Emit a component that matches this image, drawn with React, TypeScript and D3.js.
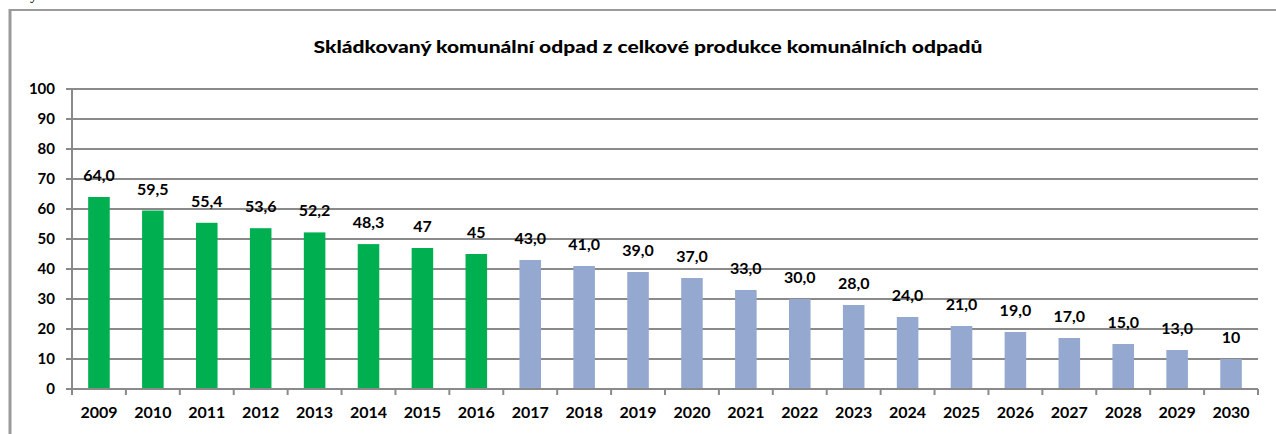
import React from "react";
import * as d3 from "d3";

const years = ["2009","2010","2011","2012","2013","2014","2015","2016","2017","2018","2019","2020","2021","2022","2023","2024","2025","2026","2027","2028","2029","2030"];
const values = [64.0,59.5,55.4,53.6,52.2,48.3,47,45,43.0,41.0,39.0,37.0,33.0,30.0,28.0,24.0,21.0,19.0,17.0,15.0,13.0,10];
const labels = ["64,0","59,5","55,4","53,6","52,2","48,3","47","45","43,0","41,0","39,0","37,0","33,0","30,0","28,0","24,0","21,0","19,0","17,0","15,0","13,0","10"];
const actualYears = ["2009","2010","2011","2012","2013","2014","2015","2016"];
const yTicks = [0,10,20,30,40,50,60,70,80,90,100];
const title = "Skládkovaný komunální odpad z celkové produkce komunálních odpadů";

const W = 1276, H = 434;
const font = "Lato, 'Open Sans', sans-serif";

export default function App() {
  const x = d3.scaleBand<string>().domain(years).range([72, 1258]).padding(0);
  const y = d3.scaleLinear().domain([0, 100]).range([389, 89]);
  const bw = x.bandwidth() * 0.4;
  const gridColor = "#8a8a8a";
  return (
    <svg width={W} height={H} style={{ position: "absolute", left: 0, top: 0, background: "#fff" }}>
      <rect x={0} y={0} width={W} height={H} fill="#fff" />
      <text x={30} y={-1} fontFamily="'Liberation Serif', serif" fontSize={16} fill="#000">y</text>
      <line x1={10} y1={10} x2={W} y2={10} stroke="#9a9a9a" strokeWidth={2} />
      <line x1={10} y1={9} x2={10} y2={H} stroke="#9a9a9a" strokeWidth={3} />
      <text x={648} y={53} textAnchor="middle" fontFamily={font} fontWeight={900} fontSize={17} fill="#000" textLength={669} lengthAdjust="spacingAndGlyphs">{title}</text>
      {yTicks.map(t => (
        <g key={t}>
          <line x1={66} x2={1258} y1={y(t)} y2={y(t)} stroke={gridColor} strokeWidth={2} />
          <text x={55} y={y(t)} dy="0.35em" textAnchor="end" fontFamily={font} fontWeight={700} fontSize={15} fill="#000">{t}</text>
        </g>
      ))}
      <line x1={72} x2={72} y1={y(100)} y2={y(0) + 6} stroke={gridColor} strokeWidth={2} />
      {years.map((yr, i) => {
        const cx = (x(yr) as number) + x.bandwidth() / 2;
        const v = values[i];
        return (
          <g key={yr}>
            <line x1={(x(yr) as number) + x.bandwidth()} x2={(x(yr) as number) + x.bandwidth()} y1={y(0)} y2={y(0) + 6} stroke={gridColor} strokeWidth={2} />
            <rect x={cx - bw / 2} y={y(v)} width={bw} height={y(0) - y(v) - 1} fill={actualYears.includes(yr) ? "#00B050" : "#95A9D0"} />
            <text x={cx} y={y(v) - 16} textAnchor="middle" fontFamily={font} fontWeight={700} fontSize={16} fill="#000">{labels[i]}</text>
            <text x={cx} y={418} textAnchor="middle" fontFamily={font} fontWeight={700} fontSize={16} fill="#000">{yr}</text>
          </g>
        );
      })}
    </svg>
  );
}
